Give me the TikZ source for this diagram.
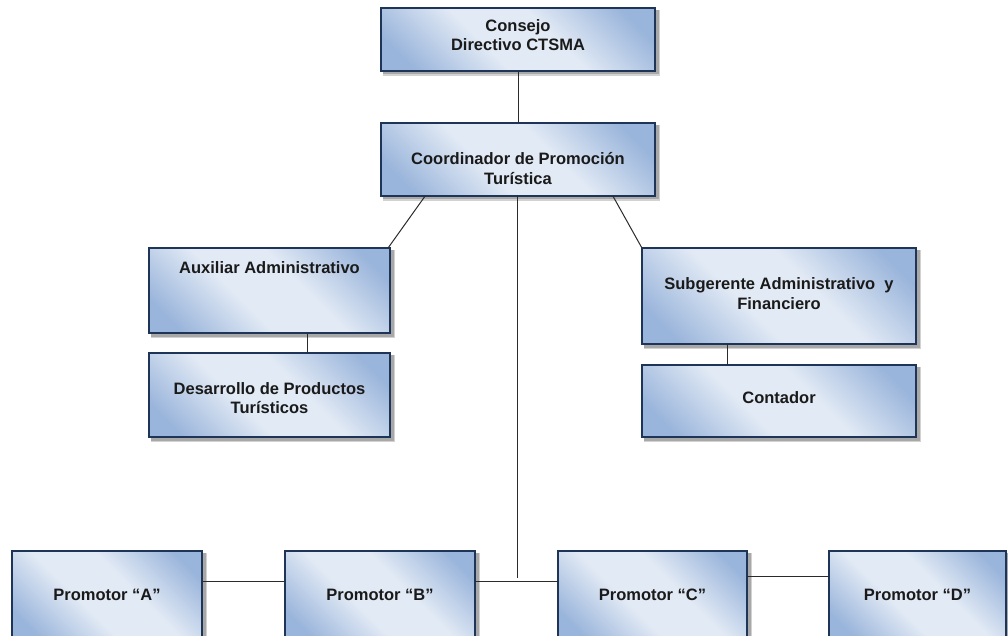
\documentclass[tikz,border=0pt]{standalone}
\usepackage{fontspec}
\setmainfont{Liberation Sans}
\definecolor{boxborder}{HTML}{1F3558}
\definecolor{boxdark}{HTML}{9AB5DB}
\definecolor{boxlight}{HTML}{E2EAF5}
\definecolor{textcol}{HTML}{1A1A1A}
\definecolor{linecol}{HTML}{2B2B2B}
\definecolor{shadowcol}{HTML}{7F7F7F}
\pgfdeclareverticalshading{boxshade}{100bp}{color(0bp)=(boxdark); color(22bp)=(boxdark); color(42bp)=(boxlight); color(58bp)=(boxlight); color(78bp)=(boxdark); color(100bp)=(boxdark)}
\begin{document}
\begin{tikzpicture}[x=1pt,y=-1pt,
  boxframe/.style={draw=boxborder, line width=2.2pt, inner sep=0pt,
    shading=boxshade, shading angle=-45},
  boxtext/.style={font=\fontsize{16.5}{19.5}\selectfont\bfseries, text=textcol, align=center, inner sep=0pt},
  conn/.style={draw=linecol, line width=1pt}]
\useasboundingbox (0,0) rectangle (1008,636);
\clip (0,0) rectangle (1008,636);
\fill[white] (0,0) rectangle (1008,636);
% shadows
\foreach \a/\b/\c/\d in {381/8/655/71, 381/123/655/196, 149/248/390/333, 149/353/390/437,
  642/248/916/344, 642/365/916/437, 12/551/202/640, 285/551/475/640, 558/551/747/640, 829/551/1006/640}
  {\fill[shadowcol, opacity=0.35] (\a+2,\b+2) rectangle (\c+5,\d+5);
   \fill[shadowcol, opacity=0.5] (\a+2,\b+2) rectangle (\c+3.5,\d+3.5);}
% boxes
\path[boxframe] (381,8) rectangle (655,71);
\node[inner sep=0, minimum width=274pt, minimum height=63pt] (consb) at (518,39.5) {};
\path[boxframe] (381,123) rectangle (655,196);
\node[inner sep=0, minimum width=274pt, minimum height=73pt] (coord) at (518,159.5) {};
\path[boxframe] (149,248) rectangle (390,333);
\node[inner sep=0, minimum width=241pt, minimum height=85pt] (aux) at (269.5,290.5) {};
\path[boxframe] (149,353) rectangle (390,437);
\node[inner sep=0, minimum width=241pt, minimum height=84pt] (des) at (269.5,395) {};
\path[boxframe] (642,248) rectangle (916,344);
\node[inner sep=0, minimum width=274pt, minimum height=96pt] (sub) at (779,296) {};
\path[boxframe] (642,365) rectangle (916,437);
\node[inner sep=0, minimum width=274pt, minimum height=72pt] (cont) at (779,401) {};
\path[boxframe] (12,551) rectangle (202,640);
\node[inner sep=0, minimum width=190pt, minimum height=89pt] (pa) at (107,595.5) {};
\path[boxframe] (285,551) rectangle (475,640);
\node[inner sep=0, minimum width=190pt, minimum height=89pt] (pb) at (380,595.5) {};
\path[boxframe] (558,551) rectangle (747,640);
\node[inner sep=0, minimum width=189pt, minimum height=89pt] (pc) at (652.5,595.5) {};
\path[boxframe] (829,551) rectangle (1006,640);
\node[inner sep=0, minimum width=177pt, minimum height=89pt] (pd) at (917.5,595.5) {};
% texts
\node[boxtext] at (518,35) {Consejo\\Directivo CTSMA};
\node[boxtext] at (518,168.5) {Coordinador de Promoción\\Turística};
\node[boxtext] at (269.5,268) {Auxiliar Administrativo};
\node[boxtext] at (269.5,398) {Desarrollo de Productos\\Turísticos};
\node[boxtext] at (779,293.5) {Subgerente Administrativo\ \ y\\Financiero};
\node[boxtext] at (779,398) {Contador};
\node[boxtext] at (107,595) {Promotor “A”};
\node[boxtext] at (380,595) {Promotor “B”};
\node[boxtext] at (652.5,595) {Promotor “C”};
\node[boxtext] at (917.5,595) {Promotor “D”};
% connectors
\coordinate (trunkend) at (517,578);
\draw[conn] (consb.south) -- (coord.north);
\draw[conn] (coord.south) ++(-1,0) -- (trunkend);
\draw[conn] ([xshift=-93pt]coord.south) -- ([xshift=-2pt]aux.north east);
\draw[conn] ([xshift=95pt]coord.south) -- (sub.north west);
\draw[conn] ([xshift=37.5pt]aux.south) -- ([xshift=37.5pt]des.north);
\draw[conn] ([xshift=-52pt]sub.south) -- ([xshift=-52pt]cont.north);
\draw[conn] (pa.east |- 0,581) -- (pb.west |- 0,581);
\draw[conn] (pb.east |- 0,581) -- (pc.west |- 0,581);
\draw[conn] (pc.east |- 0,576) -- (pd.west |- 0,576);
\end{tikzpicture}
\end{document}
